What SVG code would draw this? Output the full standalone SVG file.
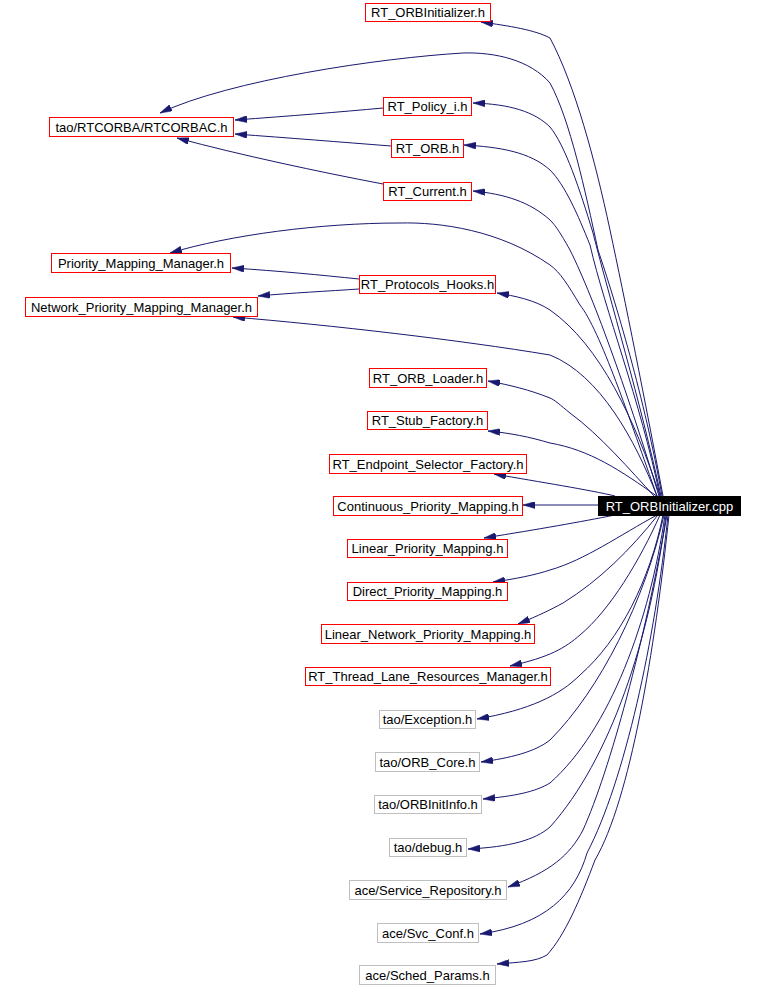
<svg xmlns="http://www.w3.org/2000/svg" width="764" height="987" viewBox="0 0 764 987">
<style>
.e{fill:none;stroke:#191970;stroke-width:1;marker-end:url(#ah)}
.n rect{fill:#ffffff;stroke:#ff0000;stroke-width:1}
.g rect{fill:#ffffff;stroke:#bfbfbf;stroke-width:1}
.c rect{fill:#000000;stroke:#000000;stroke-width:1}
text{font-family:"Liberation Sans",Arial,sans-serif;font-size:13px;text-anchor:middle;fill:#000000}
.c text{fill:#ffffff}
</style>
<defs>
<marker id="ah" viewBox="0 0 12 7" refX="12" refY="3.5" markerWidth="12" markerHeight="7" markerUnits="userSpaceOnUse" orient="auto">
<path d="M0,0 L12,3.5 L0,7 Z" fill="#191970" stroke="#191970" stroke-width="0.5"/>
</marker>
</defs>
<rect x="0" y="0" width="764" height="987" fill="#ffffff"/>
<g id="edges">
<path class="e" d="M 663,496 C 645,400 625,300 610,230 C 595,160 575,85 550,38 C 535,30 510,26 481,22"/>
<path class="e" d="M 662,496 C 645,400 615,300 598,250 C 585,190 570,120 550,83 C 530,60 495,52 463,53 C 380,58 230,80 160,113"/>
<path class="e" d="M 661,496 C 640,400 610,300 593,233 C 580,190 565,145 550,127 C 535,112 510,104 473,103"/>
<path class="e" d="M 660,496 C 640,400 605,310 590,245 C 578,215 565,185 550,170 C 530,152 500,147 464,145"/>
<path class="e" d="M 659,496 C 630,400 595,300 570,250 C 560,232 555,225 550,220 C 530,202 505,194 473,191"/>
<path class="e" d="M 657,496 C 630,420 600,330 580,305 C 568,285 560,272 550,265 C 500,230 440,222 400,223 C 320,223 230,235 170,253"/>
<path class="e" d="M 660,496 C 635,420 600,345 550,310 C 535,300 515,296 497,293"/>
<path class="e" d="M 657,496 C 635,440 600,375 550,355 C 460,340 330,325 233,317"/>
<path class="e" d="M 359,279 C 320,275 280,271 232,268"/>
<path class="e" d="M 359,289 C 330,291 290,293 258,296"/>
<path class="e" d="M 383,108 C 340,112 290,116 235,120"/>
<path class="e" d="M 391,146 C 340,142 290,138 235,134"/>
<path class="e" d="M 383,184 C 320,172 240,155 177,138"/>
<path class="e" d="M 655,497 C 630,470 600,435 570,413 C 560,405 555,400 550,398 C 530,390 510,385 488,381"/>
<path class="e" d="M 658,497 C 620,470 590,450 550,443 C 530,437 510,433 488,431"/>
<path class="e" d="M 615,496 C 590,490 540,482 494,474"/>
<path class="e" d="M 598,505 L 523,505"/>
<path class="e" d="M 615,515 C 580,522 540,529 484,538"/>
<path class="e" d="M 657,515 C 620,535 585,560 550,570 C 535,575 515,579 493,582"/>
<path class="e" d="M 658,515 C 630,550 600,580 563,603 C 550,610 540,615 518,624"/>
<path class="e" d="M 660,515 C 640,560 610,610 580,635 C 565,648 550,657 510,666"/>
<path class="e" d="M 663,515 C 650,580 620,640 580,675 C 560,695 530,710 477,719"/>
<path class="e" d="M 664,515 C 645,600 600,690 550,740 C 535,752 510,758 481,762"/>
<path class="e" d="M 665,515 C 650,620 610,730 550,783 C 535,792 515,796 483,799"/>
<path class="e" d="M 666,515 C 650,640 610,760 550,827 C 535,840 510,847 468,849"/>
<path class="e" d="M 667,515 C 645,640 610,770 583,830 C 570,855 550,872 508,887"/>
<path class="e" d="M 668,515 C 655,640 625,780 587,853 C 575,895 545,925 480,934"/>
<path class="e" d="M 669,515 C 655,650 630,800 595,860 C 580,900 565,935 547,955 C 535,962 520,962 497,964"/>
</g>
<g id="n_rtorbinit_h" class="n"><rect x="365.5" y="3.5" width="125" height="18"/><text x="428" y="17">RT_ORBInitializer.h</text></g>
<g id="n_rtcorbac" class="n"><rect x="49.5" y="117.5" width="184" height="19"/><text x="141.5" y="132">tao/RTCORBA/RTCORBAC.h</text></g>
<g id="n_policy" class="n"><rect x="383.5" y="97.5" width="88" height="18"/><text x="427.5" y="111">RT_Policy_i.h</text></g>
<g id="n_orb" class="n"><rect x="391.5" y="139.5" width="72" height="18"/><text x="427.5" y="153">RT_ORB.h</text></g>
<g id="n_current" class="n"><rect x="383.5" y="182.5" width="88" height="18"/><text x="427.5" y="196">RT_Current.h</text></g>
<g id="n_pmm" class="n"><rect x="51.5" y="253.5" width="179" height="19"/><text x="141" y="268">Priority_Mapping_Manager.h</text></g>
<g id="n_hooks" class="n"><rect x="359.5" y="275.5" width="136" height="18"/><text x="427.5" y="289">RT_Protocols_Hooks.h</text></g>
<g id="n_npmm" class="n"><rect x="25.5" y="297.5" width="232" height="19"/><text x="141.5" y="312">Network_Priority_Mapping_Manager.h</text></g>
<g id="n_loader" class="n"><rect x="369.5" y="368.5" width="117" height="19"/><text x="428" y="383">RT_ORB_Loader.h</text></g>
<g id="n_stub" class="n"><rect x="367.5" y="411.5" width="120" height="18"/><text x="427.5" y="425">RT_Stub_Factory.h</text></g>
<g id="n_endpoint" class="n"><rect x="329.5" y="454.5" width="197" height="19"/><text x="428" y="469">RT_Endpoint_Selector_Factory.h</text></g>
<g id="n_cont" class="n"><rect x="333.5" y="496.5" width="189" height="19"/><text x="428" y="511">Continuous_Priority_Mapping.h</text></g>
<g id="n_cpp" class="c"><rect x="598.5" y="496.5" width="142" height="19"/><text x="669.5" y="511">RT_ORBInitializer.cpp</text></g>
<g id="n_lin" class="n"><rect x="347.5" y="539.5" width="160" height="18"/><text x="427.5" y="553">Linear_Priority_Mapping.h</text></g>
<g id="n_direct" class="n"><rect x="347.5" y="582.5" width="160" height="18"/><text x="427.5" y="596">Direct_Priority_Mapping.h</text></g>
<g id="n_linnet" class="n"><rect x="321.5" y="624.5" width="213" height="19"/><text x="428" y="639">Linear_Network_Priority_Mapping.h</text></g>
<g id="n_thread" class="n"><rect x="305.5" y="667.5" width="245" height="18"/><text x="428" y="681">RT_Thread_Lane_Resources_Manager.h</text></g>
<g id="n_exc" class="g"><rect x="379.5" y="710.5" width="96" height="18"/><text x="427.5" y="724">tao/Exception.h</text></g>
<g id="n_orbcore" class="g"><rect x="375.5" y="752.5" width="104" height="19"/><text x="427.5" y="767">tao/ORB_Core.h</text></g>
<g id="n_initinfo" class="g"><rect x="374.5" y="795.5" width="107" height="18"/><text x="428" y="809">tao/ORBInitInfo.h</text></g>
<g id="n_debug" class="g"><rect x="389.5" y="838.5" width="77" height="18"/><text x="428" y="852">tao/debug.h</text></g>
<g id="n_svcrepo" class="g"><rect x="349.5" y="880.5" width="157" height="19"/><text x="428" y="895">ace/Service_Repository.h</text></g>
<g id="n_svcconf" class="g"><rect x="377.5" y="923.5" width="101" height="19"/><text x="428" y="938">ace/Svc_Conf.h</text></g>
<g id="n_sched" class="g"><rect x="359.5" y="965.5" width="136" height="19"/><text x="427.5" y="980">ace/Sched_Params.h</text></g>
</svg>
